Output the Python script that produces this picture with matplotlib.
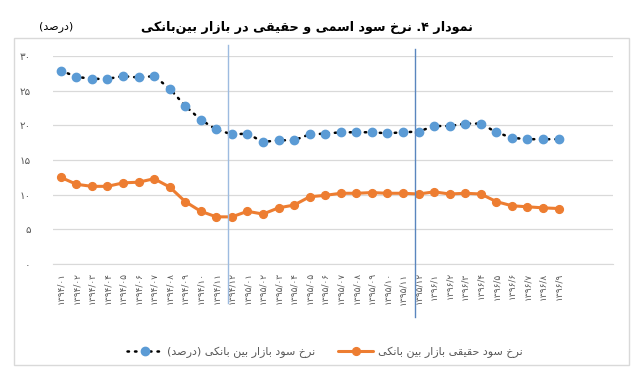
import matplotlib
matplotlib.use('Agg')
import matplotlib.pyplot as plt
import matplotlib.transforms as mtransforms
from matplotlib.lines import Line2D
from matplotlib.patches import Rectangle

# داده‌ها (خوانده شده از نمودار)
years = ['1394'] * 12 + ['1395'] * 12 + ['1396'] * 9
months = ['01', '02', '03', '04', '05', '06', '07', '08', '09', '10', '11', '12',
          '01', '02', '03', '04', '05', '06', '07', '08', '09', '10', '11', '12',
          '1', '2', '3', '4', '5', '6', '7', '8', '9']
nominal_rate = [27.9, 27.0, 26.7, 26.7, 27.1, 26.9, 27.1, 25.3, 22.8, 20.8, 19.4, 18.7,
                18.8, 17.6, 17.85, 17.85, 18.7, 18.8, 19.0, 19.0, 19.0, 18.85, 19.0, 19.1,
                19.9, 19.9, 20.25, 20.25, 19.0, 18.2, 18.0, 18.0, 18.0]
real_rate = [12.5, 11.5, 11.2, 11.2, 11.7, 11.8, 12.3, 11.1, 9.0, 7.6, 6.8, 6.8,
             7.6, 7.2, 8.1, 8.5, 9.7, 9.9, 10.2, 10.2, 10.3, 10.2, 10.2, 10.1,
             10.4, 10.1, 10.2, 10.1, 9.0, 8.4, 8.25, 8.1, 8.0]
y_ticks = [0, 5, 10, 15, 20, 25, 30]
n_slots = 36  # محور دسته‌ای اکسل تا ۱۳۹۶/۱۲ جا دارد

TITLE = 'نمودار 4. نرخ سود اسمی و حقیقی در بازار بین\u200cبانکی'
UNIT = '(درصد)'
LEG_NOMINAL = 'نرخ سود بازار بین بانکی (درصد)'
LEG_REAL = 'نرخ سود حقیقی بازار بین بانکی'

BLUE = '#5B9BD5'
ORANGE = '#ED7D31'
GRAY_TXT = '#595959'
GRID = '#D9D9D9'

FA_DIGITS = str.maketrans('0123456789', '۰۱۲۳۴۵۶۷۸۹')

# حالت‌های حروف: (تنها، پایانی، آغازی، میانی)
FORMS = {
    'ا': ('\uFE8D', '\uFE8E', None, None),
    'ب': ('\uFE8F', '\uFE90', '\uFE91', '\uFE92'),
    'ح': ('\uFEA1', '\uFEA2', '\uFEA3', '\uFEA4'),
    'خ': ('\uFEA5', '\uFEA6', '\uFEA7', '\uFEA8'),
    'د': ('\uFEA9', '\uFEAA', None, None),
    'ر': ('\uFEAD', '\uFEAE', None, None),
    'ز': ('\uFEAF', '\uFEB0', None, None),
    'س': ('\uFEB1', '\uFEB2', '\uFEB3', '\uFEB4'),
    'ص': ('\uFEB9', '\uFEBA', '\uFEBB', '\uFEBC'),
    'ق': ('\uFED5', '\uFED6', '\uFED7', '\uFED8'),
    'ک': ('\uFB8E', '\uFB8F', '\uFB90', '\uFB91'),
    'م': ('\uFEE1', '\uFEE2', '\uFEE3', '\uFEE4'),
    'ن': ('\uFEE5', '\uFEE6', '\uFEE7', '\uFEE8'),
    'و': ('\uFEED', '\uFEEE', None, None),
    'ی': ('\uFBFC', '\uFBFD', '\uFBFE', '\uFBFF'),
}
MIRROR = {'(': ')', ')': '('}


def fa(text):
    """شکل‌دهی ساده حروف فارسی و برگرداندن ترتیب برای matplotlib."""
    text = text.translate(FA_DIGITS)
    out = []
    for i, ch in enumerate(text):
        if ch not in FORMS:
            if ch != '\u200c':
                out.append(MIRROR.get(ch, ch))
            continue
        prev = text[i - 1] if i > 0 else ''
        nxt = text[i + 1] if i + 1 < len(text) else ''
        join_prev = prev in FORMS and FORMS[prev][2] is not None
        join_next = FORMS[ch][2] is not None and nxt in FORMS
        iso, fin, ini, med = FORMS[ch]
        if join_prev and join_next:
            out.append(med)
        elif join_prev:
            out.append(fin)
        elif join_next:
            out.append(ini)
        else:
            out.append(iso)
    return ''.join(reversed(out))


plt.rcParams['font.family'] = ['DejaVu Sans']

W, H = 636, 368
fig = plt.figure(figsize=(W / 100, H / 100), dpi=100)
ax = fig.add_axes([53 / W, 1 - 264 / H, 560 / W, 208 / H])

x = list(range(len(nominal_rate)))
ax.plot(x, real_rate, color=ORANGE, lw=2.2, marker='o', markersize=5.6,
        solid_capstyle='round', zorder=3, label=fa(LEG_REAL))
ax.plot(x, nominal_rate, color='black', lw=1.8, linestyle=(0, (0.6, 2.4)),
        dash_capstyle='round', marker='o', markersize=6, markerfacecolor=BLUE,
        markeredgecolor=BLUE, zorder=4, label=fa(LEG_NOMINAL))

ax.set_xlim(-0.5, n_slots - 0.5)
ax.set_ylim(0, 30)
ax.set_yticks(y_ticks)
ax.set_yticklabels([str(v).translate(FA_DIGITS) for v in y_ticks], fontsize=7.5, color=GRAY_TXT)
ax.set_xticks(x)
ax.set_xticklabels([(y + '/' + m).translate(FA_DIGITS) for y, m in zip(years, months)],
                   rotation=90, fontsize=6.5, color=GRAY_TXT)
ax.tick_params(axis='y', length=0, pad=16)
ax.tick_params(axis='x', length=0, pad=6)
ax.grid(axis='y', color=GRID, lw=0.9)
ax.set_axisbelow(True)
for side in ['top', 'right', 'left']:
    ax.spines[side].set_visible(False)
ax.spines['bottom'].set_color(GRID)

# خطوط عمودی پایان سال
trans = mtransforms.blended_transform_factory(ax.transData, fig.transFigure)
fig.add_artist(Line2D([10.75, 10.75], [1 - 45 / H, 1 - 303 / H], transform=trans,
                      color='#9DBBE0', lw=1.0, zorder=5))
fig.add_artist(Line2D([22.8, 22.8], [1 - 49 / H, 1 - 317 / H], transform=trans,
                      color='#5A86BE', lw=1.0, zorder=5))

# قاب بیرونی
fig.add_artist(Rectangle((14 / W, 3 / H), 615 / W, 327 / H, transform=fig.transFigure,
                         fill=False, edgecolor=GRID, lw=1.0))

fig.text(307 / W, 1 - 27 / H, fa(TITLE), ha='center', va='center',
         fontsize=9.2, fontweight='bold', color='black')
fig.text(56 / W, 1 - 27 / H, fa(UNIT), ha='center', va='center', fontsize=8, color='black')

handles, labels = ax.get_legend_handles_labels()
leg = fig.legend(handles[::-1], labels[::-1], loc='center', ncol=2,
                 bbox_to_anchor=(325 / W, 1 - 352 / H), frameon=False,
                 fontsize=8, handlelength=3.2, columnspacing=2.0, handletextpad=0.4)
for t in leg.get_texts():
    t.set_color(GRAY_TXT)

fig.savefig('out.png', dpi=100)
